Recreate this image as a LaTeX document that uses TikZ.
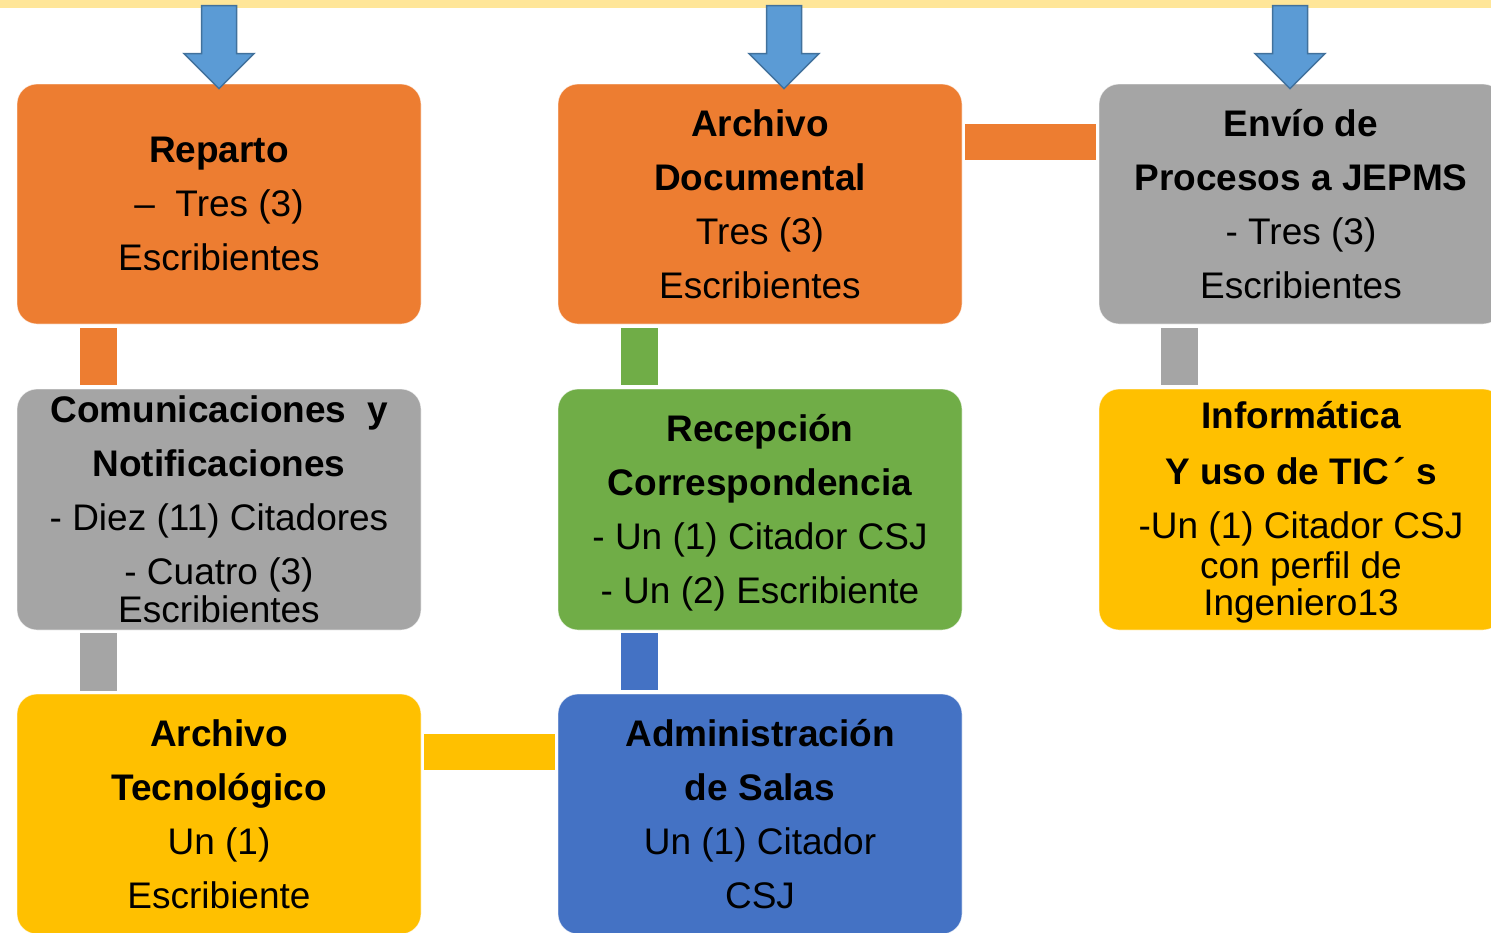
\documentclass[tikz,border=0pt]{standalone}
\usepackage{fontspec}
\setmainfont{Liberation Sans}
\usetikzlibrary{calc}
\definecolor{cO}{HTML}{ED7D31}
\definecolor{cG}{HTML}{A5A5A5}
\definecolor{cGr}{HTML}{70AD47}
\definecolor{cY}{HTML}{FFC000}
\definecolor{cB}{HTML}{4472C4}
\definecolor{cBar}{HTML}{FFE699}
\definecolor{cArF}{HTML}{5B9BD5}
\definecolor{cArD}{HTML}{41719C}
\tikzset{
  box/.style={rounded corners=20pt, minimum width=404pt, minimum height=240pt,
    inner sep=0pt, align=center, draw=white, draw opacity=0.6, line width=0.8pt,
    font=\fontsize{37}{54}\selectfont, text=black},
  bar/.style={line width=37pt, line cap=butt},
  downarrow/.style={fill=cArF, draw=cArD, line width=1.5pt, line join=miter}
}
\begin{document}
\begin{tikzpicture}[x=1pt,y=-1pt]
\useasboundingbox (0,0) rectangle (1491,932);
\clip (0,0) rectangle (1491,932);
\fill[cBar] (0,0) rectangle (1491,8);

\node[box, fill=cO] (rep) at (219,204) {\textbf{Reparto}\\–\ \ Tres (3)\\Escribientes};
\node[box, fill=cO] (arc) at (760,204) {\textbf{Archivo}\\\textbf{Documental}\\Tres (3)\\Escribientes};
\node[box, fill=cG] (env) at (1301,204) {\textbf{Envío de}\\\textbf{Procesos a JEPMS}\\- Tres (3)\\Escribientes};
\node[box, fill=cG, minimum height=241pt] (com) at (219,509.5) {\textbf{Comunicaciones~ y}\\\textbf{Notificaciones}\\- Diez (11) Citadores\\- Cuatro (3)\\[-16pt]Escribientes};
\node[box, fill=cGr, minimum height=241pt] (rec) at (760,509.5) {\rule{0pt}{34pt}\textbf{Recepción}\\\textbf{Correspondencia}\\- Un (1) Citador CSJ\\- Un (2) Escribiente};
\node[box, fill=cY, minimum height=241pt] (inf) at (1301,509.5) {\rule{0pt}{32pt}\textbf{Informática}\\[2pt]\textbf{Y uso de TIC\hspace{4pt}´ s}\\-Un (1) Citador CSJ\\[-14pt]con perfil de\\[-17pt]Ingeniero13};
\node[box, fill=cY] (tec) at (219,814) {\textbf{Archivo}\\\textbf{Tecnológico}\\Un (1)\\Escribiente};
\node[box, fill=cB] (adm) at (760,814) {\textbf{Administración}\\\textbf{de Salas}\\Un (1) Citador\\CSJ};

% connectors
\draw[bar, cO] ([xshift=81.5pt,yshift=-4pt]rep.south west) -- ([xshift=81.5pt,yshift=4pt]com.north west);
\draw[bar, cG] ([xshift=81.5pt,yshift=-3pt]com.south west) -- ([xshift=81.5pt,yshift=3pt]tec.north west);
\draw[bar, cGr] ([xshift=81.5pt,yshift=-4pt]arc.south west) -- ([xshift=81.5pt,yshift=4pt]rec.north west);
\draw[bar, cB] ([xshift=81.5pt,yshift=-3pt]rec.south west) -- ([xshift=81.5pt,yshift=4pt]adm.north west);
\draw[bar, cG] ([xshift=81pt,yshift=-4pt]env.south west) -- ([xshift=81pt,yshift=4pt]inf.north west);
\draw[bar, cO, line width=36pt] ([xshift=3pt,yshift=-58pt]arc.north east) -- ([xshift=-3pt,yshift=-58pt]env.north west);
\draw[bar, cY, line width=36pt] ([xshift=3pt,yshift=-58pt]tec.north east) -- ([xshift=-3pt,yshift=-58pt]adm.north west);

% down arrows
\foreach \n/\dx in {rep/0,arc/24,env/-11}{
  \coordinate (tip-\n) at ([xshift=\dx pt,yshift=-5pt]\n.north);
  \begin{scope}[shift={(tip-\n)}]
    \draw[downarrow] (0,0) -- (-35,-35) -- (-17.5,-35) -- (-17.5,-83) -- (17.5,-83) -- (17.5,-35) -- (35,-35) -- cycle;
  \end{scope}
}
\end{tikzpicture}
\end{document}
